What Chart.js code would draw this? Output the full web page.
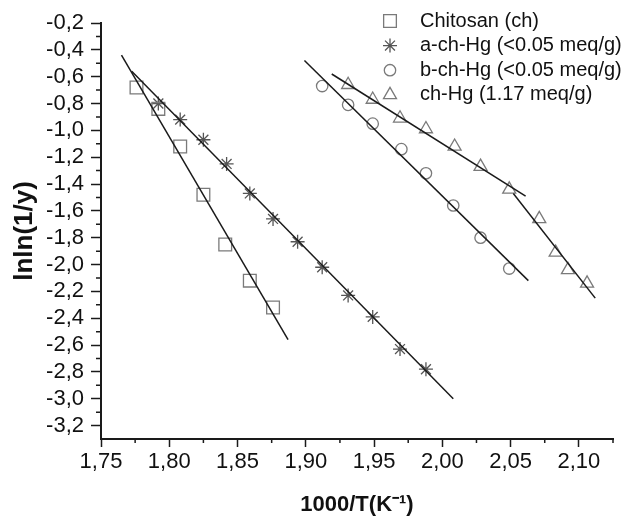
<!DOCTYPE html>
<html>
<head>
<meta charset="utf-8">
<script src="https://cdn.jsdelivr.net/npm/chart.js@4/dist/chart.umd.min.js"></script>
<style>
  html, body { margin: 0; padding: 0; background: #fff; }
  canvas { display: block; }
</style>
</head>
<body>
<canvas id="chart" width="626" height="519"></canvas>
<script>
// Series names (legend)
var seriesNames = ['Chitosan (ch)', 'a-ch-Hg (<0.05 meq/g)', 'b-ch-Hg (<0.05 meq/g)', 'ch-Hg (1.17 meq/g)'];

var chitosanX = [1.776, 1.792, 1.808, 1.825, 1.841, 1.859, 1.876];
var chitosanY = [-0.68, -0.84, -1.12, -1.48, -1.85, -2.12, -2.32];

var aChHgX = [1.792, 1.808, 1.825, 1.842, 1.859, 1.876, 1.894, 1.912, 1.931, 1.949, 1.969, 1.988];
var aChHgY = [-0.80, -0.92, -1.07, -1.25, -1.47, -1.66, -1.83, -2.02, -2.23, -2.39, -2.63, -2.78];

var bChHgX = [1.912, 1.931, 1.949, 1.970, 1.988, 2.008, 2.028, 2.049];
var bChHgY = [-0.67, -0.81, -0.95, -1.14, -1.32, -1.56, -1.80, -2.03];

var chHgX = [1.931, 1.949, 1.969, 1.988, 2.009, 2.028, 2.049, 2.071, 2.083, 2.092, 2.106];
var chHgY = [-0.66, -0.77, -0.91, -0.99, -1.12, -1.27, -1.44, -1.66, -1.91, -2.04, -2.14];

// Fitted lines (start / end)
var chitosanFitX = [1.765, 1.887];
var chitosanFitY = [-0.44, -2.56];
var aChHgFitX = [1.7725, 2.008];
var aChHgFitY = [-0.56, -3.00];
var bChHgFitX = [1.899, 2.063];
var bChHgFitY = [-0.48, -2.12];
var chHgFit1X = [1.919, 2.061];
var chHgFit1Y = [-0.58, -1.49];
var chHgFit2X = [2.052, 2.112];
var chHgFit2Y = [-1.47, -2.25];

// Axis ticks
var xTicks = [1.75, 1.80, 1.85, 1.90, 1.95, 2.00, 2.05, 2.10];
var yTicks = [-3.2, -3.0, -2.8, -2.6, -2.4, -2.2, -2.0, -1.8, -1.6, -1.4, -1.2, -1.0, -0.8, -0.6, -0.4, -0.2];

var FONT = "'Liberation Sans', Arial, sans-serif";
var INK = '#1a1a1a';
var MARK = '#7a7a7a';

var pts = (xs, ys) => xs.map((x, i) => ({ x: x, y: ys[i] }));

var markerSet = (label, xs, ys, style, radius, color) => ({
  label: label,
  data: pts(xs, ys),
  showLine: false,
  pointStyle: style,
  pointRadius: radius,
  pointBorderWidth: 1.3,
  borderColor: color,
  backgroundColor: 'rgba(0,0,0,0)',
  order: 2
});

var fitSet = (xs, ys) => ({
  label: '',
  data: pts(xs, ys),
  showLine: true,
  pointRadius: 0,
  borderColor: INK,
  borderWidth: 1.5,
  order: 1
});

var datasets = [
  markerSet(seriesNames[0], chitosanX, chitosanY, 'rect', 9, MARK),
  markerSet(seriesNames[1], aChHgX, aChHgY, 'star', 7, '#555'),
  markerSet(seriesNames[2], bChHgX, bChHgY, 'circle', 5.7, MARK),
  markerSet(seriesNames[3], chHgX, chHgY, 'triangle', 7.5, MARK),
  fitSet(chitosanFitX, chitosanFitY),
  fitSet(aChHgFitX, aChHgFitY),
  fitSet(bChHgFitX, bChHgFitY),
  fitSet(chHgFit1X, chHgFit1Y),
  fitSet(chHgFit2X, chHgFit2Y)
];

// Small ticks halfway between the labelled ones
var minorTicks = {
  id: 'minorTicks',
  afterDraw(chart) {
    var ctx = chart.ctx;
    var xs = chart.scales.x, ys = chart.scales.y;
    ctx.save();
    ctx.strokeStyle = INK;
    ctx.lineWidth = 1.5;
    ctx.beginPath();
    xTicks.forEach(v => {
      var px = xs.getPixelForValue(v + 0.025);
      if (px <= xs.right + 0.5) {
        ctx.moveTo(px, ys.bottom);
        ctx.lineTo(px, ys.bottom + 4);
      }
    });
    yTicks.forEach(v => {
      var py = ys.getPixelForValue(v - 0.1);
      if (py <= ys.bottom - 2) {
        ctx.moveTo(xs.left, py);
        ctx.lineTo(xs.left - 5, py);
      }
    });
    ctx.stroke();
    ctx.restore();
  }
};

// Legend in the top right corner of the plot
var cornerLegend = {
  id: 'cornerLegend',
  afterDraw(chart) {
    var ctx = chart.ctx;
    ctx.save();
    ctx.font = '20px ' + FONT;
    ctx.textBaseline = 'middle';
    ctx.textAlign = 'left';
    seriesNames.forEach((name, i) => {
      var ds = chart.data.datasets[i];
      var y = 21 + i * 24.6;
      ctx.strokeStyle = ds.borderColor;
      ctx.fillStyle = 'rgba(0,0,0,0)';
      ctx.lineWidth = ds.pointBorderWidth;
      Chart.helpers.drawPoint(ctx, {
        pointStyle: ds.pointStyle,
        radius: ds.pointRadius,
        rotation: 0,
        borderWidth: ds.pointBorderWidth
      }, 390, y);
      ctx.fillStyle = '#111';
      ctx.fillText(name, 420, y);
    });
    ctx.restore();
  }
};

new Chart(document.getElementById('chart').getContext('2d'), {
  type: 'scatter',
  data: { datasets: datasets },
  plugins: [minorTicks, cornerLegend],
  options: {
    responsive: false,
    animation: false,
    layout: { padding: { top: 23, right: 13, left: 0, bottom: 0 } },
    plugins: {
      legend: { display: false },
      tooltip: { enabled: false }
    },
    scales: {
      x: {
        type: 'linear',
        min: 1.75,
        max: 2.125,
        afterFit: s => { s.height = 80; },
        afterBuildTicks: s => { s.ticks = xTicks.map(v => ({ value: v })); },
        grid: { drawOnChartArea: false, tickLength: 8, tickColor: INK, tickWidth: 1.5 },
        border: { color: INK, width: 2 },
        ticks: {
          color: '#111',
          font: { family: FONT, size: 22 },
          padding: 2,
          maxRotation: 0,
          autoSkip: false,
          callback: v => v.toFixed(2).replace('.', ',')
        },
        title: {
          display: true,
          text: '1000/T(K⁻¹)',
          color: '#111',
          font: { family: FONT, size: 22, weight: 'bold' },
          padding: { top: 0, bottom: 1 }
        }
      },
      y: {
        type: 'linear',
        min: -3.3,
        max: -0.2,
        afterFit: s => { s.width = 101; },
        afterBuildTicks: s => { s.ticks = yTicks.map(v => ({ value: v })); },
        grid: { drawOnChartArea: false, tickLength: 10, tickColor: INK, tickWidth: 1.5 },
        border: { color: INK, width: 2 },
        ticks: {
          color: '#111',
          font: { family: FONT, size: 22 },
          padding: 7,
          autoSkip: false,
          callback: v => v.toFixed(1).replace('.', ',')
        },
        title: {
          display: true,
          text: 'lnln(1/y)',
          color: '#111',
          font: { family: FONT, size: 26, weight: 'bold' },
          padding: { top: 9, bottom: 0 }
        }
      }
    }
  }
});
</script>
</body>
</html>
